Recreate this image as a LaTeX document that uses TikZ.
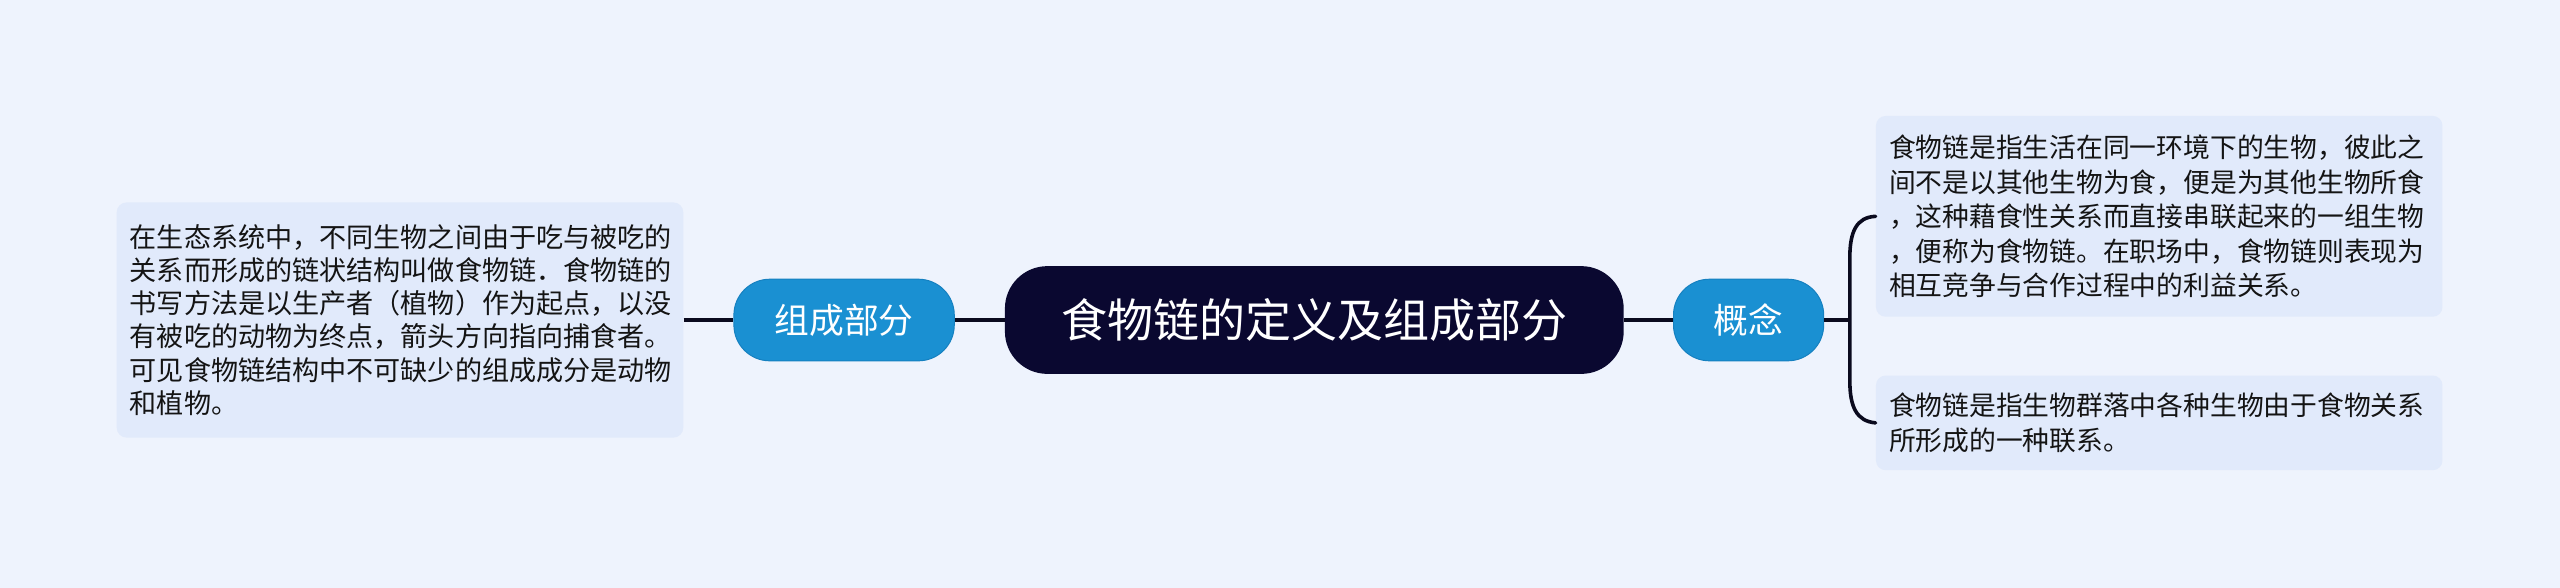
\documentclass[tikz,border=0pt]{standalone}
\usepackage{fontspec}
\newfontfamily\cjk{Noto Sans CJK SC}
\definecolor{bgc}{HTML}{EEF3FD}
\definecolor{boxc}{HTML}{E1EAFB}
\definecolor{bluec}{HTML}{1A90D2}
\definecolor{bluebd}{HTML}{1580C0}
\definecolor{darkc}{HTML}{0A0830}
\definecolor{linec}{HTML}{0A0A1E}
\tikzset{
  root/.style={fill=darkc, rounded corners=26pt, minimum width=379pt, minimum height=66pt, inner sep=0pt,
    text=white, font=\cjk\fontsize{28.2}{30}\selectfont},
  branch/.style={fill=bluec, draw=bluebd, line width=0.6pt, rounded corners=22pt, minimum height=50pt, inner sep=0pt,
    text=white, font=\cjk\fontsize{21.3}{24}\selectfont},
  leaf/.style={fill=boxc, rounded corners=6pt, inner xsep=8pt, inner ysep=0pt, align=left,
    text width=331pt, text=black!92, anchor=center},
  conn/.style={draw=linec, line width=2.2pt}
}
\begin{document}
\begin{tikzpicture}[x=1pt,y=-1pt]
\useasboundingbox[fill=bgc] (0,0) rectangle (1568,360);
\node[root] (root) at (805,196) {食物链的定义及组成部分};
\node[branch, minimum width=135pt] (zc) at (517,196) {组成部分};
\node[branch, minimum width=92pt] (gn) at (1071,196) {概念};
\node[leaf, minimum height=144pt, font=\cjk\fontsize{16.6}{20.3}\selectfont] (lb) at (245,196) {%
在生态系统中，不同生物之间由于吃与被吃的\\
关系而形成的链状结构叫做食物链．食物链的\\
书写方法是以生产者（植物）作为起点，以没\\
有被吃的动物为终点，箭头方向指向捕食者。\\
可见食物链结构中不可缺少的组成成分是动物\\
和植物。};
\node[leaf, minimum height=123pt, font=\cjk\fontsize{16.4}{21.1}\selectfont] (r1) at (1322.5,132.5) {%
食物链是指生活在同一环境下的生物，彼此之\\
间不是以其他生物为食，便是为其他生物所食\\
，这种藉食性关系而直接串联起来的一组生物\\
，便称为食物链。在职场中，食物链则表现为\\
相互竞争与合作过程中的利益关系。};
\node[leaf, minimum height=58pt, font=\cjk\fontsize{16.4}{21.4}\selectfont] (r2) at (1322.5,259) {%
食物链是指生物群落中各种生物由于食物关系\\
所形成的一种联系。};
\coordinate (bj) at (1133,196);
\draw[conn] (lb.east) -- (zc.west);
\draw[conn] (zc.east) -- (root.west);
\draw[conn] (root.east) -- (gn.west);
\draw[conn] (gn.east) -- (bj);
\draw[conn, line cap=round] (r1.west) .. controls (1137,133) and (1133,142) .. (1133,158)
  -- (1133,233) .. controls (1133,249) and (1137,258) .. (r2.west);
\end{tikzpicture}
\end{document}
